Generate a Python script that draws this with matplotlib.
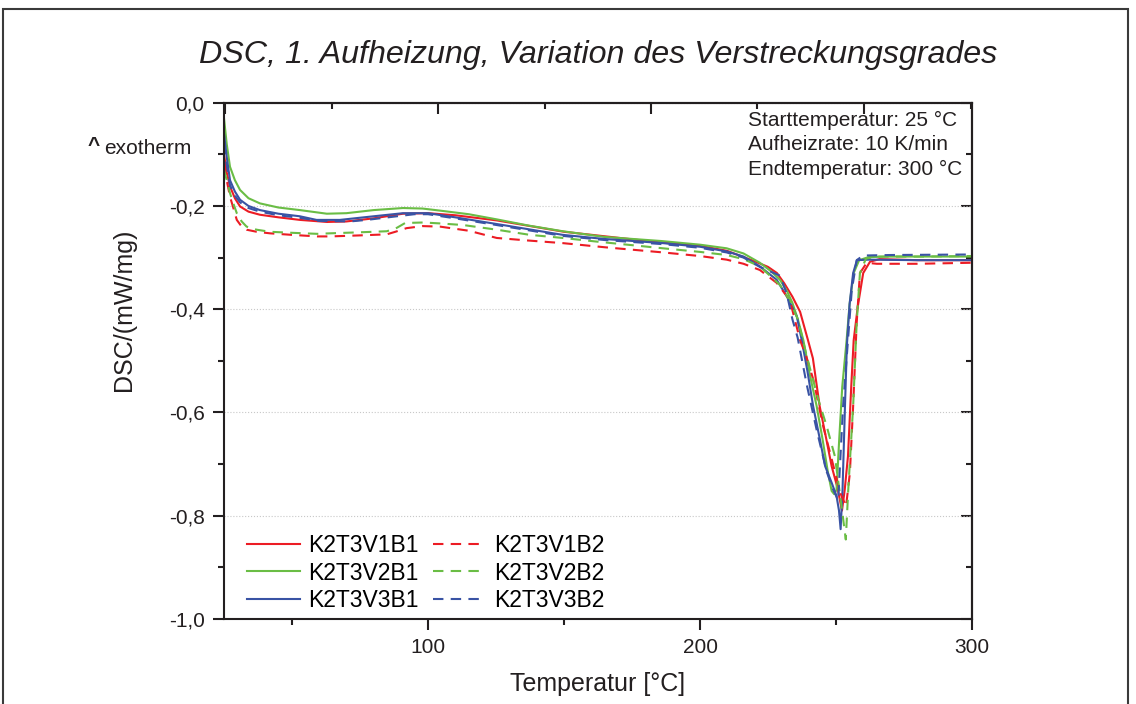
#!/usr/bin/env python3
import matplotlib
matplotlib.use("Agg")
import matplotlib.pyplot as plt
from matplotlib.patches import Rectangle
from matplotlib.ticker import FuncFormatter, MultipleLocator, FixedLocator

# DSC first heating (T in degC, DSC in mW/mg)
t_v1b1 = [25, 26, 27.2, 29, 30.9, 34, 38.2, 45, 52.9, 62.9, 70, 80, 90.8, 100, 110,
          125.3, 150, 186, 200, 210, 219.5, 225, 228.3, 231, 234, 236.8, 239.7, 241.5,
          244, 246, 248.4, 250.5, 252.2, 253.2, 254.4, 255.6, 256.5, 258, 260, 262.5,
          266, 280, 300]
d_v1b1 = [-0.10, -0.135, -0.162, -0.185, -0.201, -0.211, -0.217, -0.222, -0.227, -0.231,
          -0.230, -0.224, -0.215, -0.214, -0.218, -0.228, -0.250, -0.271, -0.277, -0.287,
          -0.306, -0.318, -0.330, -0.350, -0.376, -0.405, -0.46, -0.495, -0.588, -0.64,
          -0.704, -0.745, -0.79, -0.75, -0.685, -0.55, -0.46, -0.395, -0.33, -0.308,
          -0.303, -0.305, -0.305]

t_v2b1 = [25, 26, 27.2, 29, 30.9, 34, 38.2, 45, 52.9, 62.8, 70, 80, 90.8, 98, 104.4,
          115, 125.3, 137, 149.6, 165, 186, 200, 209.8, 216, 222, 226, 229.4, 232, 234,
          236, 238, 240.5, 242.9, 245, 247, 248.4, 249.3, 250.2, 251.2, 252.3, 253.9,
          255, 256.5, 258.5, 262, 270, 300]
d_v2b1 = [-0.03, -0.08, -0.124, -0.15, -0.169, -0.185, -0.195, -0.203, -0.208, -0.215,
          -0.214, -0.208, -0.204, -0.205, -0.209, -0.216, -0.226, -0.238, -0.249, -0.26,
          -0.268, -0.275, -0.282, -0.292, -0.31, -0.326, -0.343, -0.365, -0.388, -0.42,
          -0.46, -0.53, -0.588, -0.65, -0.715, -0.752, -0.758, -0.75, -0.65, -0.55,
          -0.46, -0.39, -0.33, -0.305, -0.299, -0.298, -0.298]

t_v3b1 = [25, 26, 27.2, 29, 30.9, 34, 38.2, 45, 52.9, 59, 67.6, 80, 90.8, 100, 110,
          125.3, 149.6, 165, 186.4, 200, 209.8, 216, 222, 228.2, 231.9, 235.6, 237.4,
          239.5, 241.6, 244, 246, 248.4, 250.2, 251.1, 251.7, 252.4, 253.3, 254, 255,
          256.3, 257.7, 262, 280, 300]
d_v3b1 = [-0.06, -0.105, -0.15, -0.172, -0.188, -0.2, -0.208, -0.215, -0.22, -0.227,
          -0.227, -0.22, -0.214, -0.214, -0.222, -0.235, -0.256, -0.264, -0.272, -0.279,
          -0.288, -0.298, -0.317, -0.343, -0.375, -0.414, -0.46, -0.52, -0.588, -0.65,
          -0.704, -0.736, -0.762, -0.79, -0.826, -0.75, -0.588, -0.47, -0.39, -0.33,
          -0.305, -0.304, -0.305, -0.305]

t_v1b2 = [25, 26, 27.2, 28.5, 29.7, 31.5, 33.3, 37, 41.9, 50, 59.3, 64, 75, 84.8, 88,
          92.1, 98, 104.4, 115, 125.3, 137, 149.6, 165, 186.4, 200, 209.8, 216, 222,
          228.2, 233, 236.8, 239, 241.7, 245.3, 248.4, 251.5, 253.7, 255.1, 256.3,
          257.6, 258.8, 261.3, 265, 280, 300]
d_v1b2 = [-0.12, -0.15, -0.182, -0.205, -0.227, -0.24, -0.246, -0.25, -0.253, -0.256,
          -0.259, -0.259, -0.257, -0.255, -0.25, -0.243, -0.239, -0.24, -0.248, -0.262,
          -0.267, -0.272, -0.28, -0.29, -0.297, -0.304, -0.312, -0.324, -0.349, -0.382,
          -0.46, -0.49, -0.537, -0.627, -0.69, -0.755, -0.782, -0.717, -0.588, -0.427,
          -0.33, -0.31, -0.312, -0.312, -0.31]

t_v2b2 = [25, 26, 27.2, 28.5, 29.7, 31.5, 33.3, 37, 41.9, 50, 59.3, 64, 75, 84.8, 88,
          91.6, 98.3, 105, 113, 125.3, 137.5, 149.6, 162, 186.4, 200, 209.8, 216, 222,
          229.4, 233, 236, 239.2, 243.5, 246.6, 249.6, 251.5, 253.6, 254.5, 256.3,
          257.6, 258.8, 261, 265, 280, 300]
d_v2b2 = [-0.13, -0.15, -0.175, -0.196, -0.214, -0.23, -0.24, -0.246, -0.25, -0.252,
          -0.254, -0.253, -0.251, -0.249, -0.244, -0.233, -0.232, -0.234, -0.237, -0.246,
          -0.256, -0.262, -0.269, -0.282, -0.289, -0.295, -0.303, -0.317, -0.353, -0.383,
          -0.42, -0.49, -0.575, -0.627, -0.685, -0.76, -0.846, -0.75, -0.588, -0.427,
          -0.33, -0.302, -0.298, -0.298, -0.297]

t_v3b2 = [25, 26, 27.2, 29, 30.9, 34, 38.2, 45, 52.9, 60, 71.3, 77.5, 88.5, 95, 100,
          110, 125.3, 149.6, 165, 186.4, 200, 209.8, 216, 222, 229.4, 231.9, 234, 235.9,
          239.2, 242.9, 246.6, 249, 250.8, 252.6, 254.4, 255.8, 257.6, 260, 270, 300]
d_v3b2 = [-0.08, -0.12, -0.16, -0.18, -0.193, -0.204, -0.211, -0.218, -0.223, -0.229,
          -0.23, -0.227, -0.22, -0.216, -0.216, -0.224, -0.237, -0.258, -0.266, -0.274,
          -0.281, -0.29, -0.3, -0.318, -0.335, -0.37, -0.42, -0.455, -0.545, -0.634,
          -0.715, -0.75, -0.77, -0.588, -0.46, -0.363, -0.305, -0.296, -0.295, -0.294]

labels = ["K2T3V1B1", "K2T3V2B1", "K2T3V3B1", "K2T3V1B2", "K2T3V2B2", "K2T3V3B2"]
info_lines = ["Starttemperatur: 25 °C", "Aufheizrate: 10 K/min", "Endtemperatur: 300 °C"]

RED = "#ec1c24"
GREEN = "#6abd45"
BLUE = "#3953a4"
INK = "#231f20"

plt.rcParams["font.family"] = ["Liberation Sans", "DejaVu Sans"]

W, H = 1136, 704
fig = plt.figure(figsize=(W / 100, H / 100), dpi=100)
ax = fig.add_axes([224 / W, 1 - 619 / H, (972 - 224) / W, (619 - 102.7) / H])

series = [
    (t_v1b1, d_v1b1, RED, "-"), (t_v2b1, d_v2b1, GREEN, "-"), (t_v3b1, d_v3b1, BLUE, "-"),
    (t_v1b2, d_v1b2, RED, "--"), (t_v2b2, d_v2b2, GREEN, "--"), (t_v3b2, d_v3b2, BLUE, "--"),
]
handles = []
for (t, d, c, ls), lab in zip(series, labels):
    ln, = ax.plot(t, d, color=c, lw=1.5, label=lab)
    if ls == "--":
        ln.set_dashes((5, 3.5))
    handles.append(ln)

ax.set_xlim(25, 300)
ax.set_ylim(-1.0, 0.0)

ax.xaxis.set_major_locator(FixedLocator([100, 200, 300]))
ax.xaxis.set_minor_locator(FixedLocator([50, 150, 250]))
ax.yaxis.set_major_locator(MultipleLocator(0.2))
ax.yaxis.set_minor_locator(MultipleLocator(0.1))
ax.yaxis.set_major_formatter(FuncFormatter(lambda v, p: f"{v:.1f}".replace(".", ",")))
ax.tick_params(which="major", direction="out", length=8, width=1.5, color=INK,
               labelsize=15, labelcolor=INK, pad=6)
ax.tick_params(which="minor", direction="out", length=4, width=1.5, color=INK)
for sp in ax.spines.values():
    sp.set_linewidth(1.5)
    sp.set_color(INK)

ax.yaxis.grid(True, which="major", color="#c8c8c8", lw=0.8, ls=":")
ax.set_axisbelow(True)

# mirrored axes: ticks pointing inward, no labels
top = ax.secondary_xaxis("top")
top.set_xticks([25.4, 103.7, 182, 260.3])
top.set_xticks([64.6, 143, 221.1, 299.5], minor=True)
top.tick_params(which="major", direction="in", length=8, width=1.5, color=INK, labeltop=False)
top.tick_params(which="minor", direction="in", length=4, width=1.5, color=INK)
top.spines["top"].set_linewidth(1.5)

right = ax.secondary_yaxis("right")
right.yaxis.set_major_locator(MultipleLocator(0.2))
right.yaxis.set_minor_locator(MultipleLocator(0.1))
right.tick_params(which="major", direction="in", length=8, width=1.5, color=INK, labelright=False)
right.tick_params(which="minor", direction="in", length=4, width=1.5, color=INK)
right.spines["right"].set_linewidth(1.5)

fig.legend(handles, labels, ncol=2,
           loc="center left", bbox_to_anchor=(247 / W, 1 - 573 / H), frameon=False,
           fontsize=16.5, handlelength=2.3, handletextpad=0.35, columnspacing=0.65,
           labelspacing=0.2, borderpad=0, borderaxespad=0)

fig.text(598 / W, 1 - 55 / H, "DSC, 1. Aufheizung, Variation des Verstreckungsgrades",
         ha="center", va="center", fontsize=23.2, style="italic", color=INK)
fig.text(598 / W, 1 - 684 / H, "Temperatur [°C]", ha="center", va="center",
         fontsize=18, color=INK)
fig.text(124 / W, 1 - 310 / H, "DSC/(mW/mg)", ha="center", va="center",
         rotation=90, fontsize=18, color=INK)
fig.text(88 / W, 1 - 146 / H, "^", ha="left", va="center", fontsize=15,
         fontweight="bold", color=INK)
fig.text(104 / W, 1 - 148 / H, "exotherm", ha="left", va="center", fontsize=15, color=INK)
for i, line in enumerate(info_lines):
    fig.text(748 / W, 1 - (120 + 24.5 * i) / H, line, ha="left", va="center",
             fontsize=15, color=INK)

# outer frame, running off the bottom edge
fig.patches.append(Rectangle((3, -20), 1125, H - 9 + 20, transform=None, fill=False,
                             lw=1.5, edgecolor="#3a3a3a"))

fig.savefig("out.png", dpi=100)
